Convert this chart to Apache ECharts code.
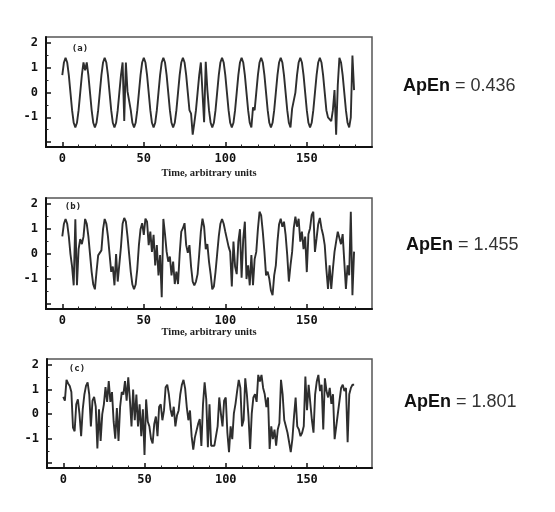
<!DOCTYPE html>
<html>
<head>
<meta charset="utf-8">
<script src="https://cdn.jsdelivr.net/npm/echarts@6/dist/echarts.min.js"></script>
<style>
html,body{margin:0;padding:0;background:#fff;}
#chart{width:555px;height:512px;}
</style>
</head>
<body>
<div id="chart"></div>
<script>
// time index (arbitrary units)
const times = Array.from({length: 180}, (_, i) => i);

// Panel (a): MIX(0.1)
const seriesA = [
 0.71,1.22,1.41,1.22,0.71,0,-0.71,-1.22,-1.41,-1.22,-0.71,0,
 0.71,1.22,0.9,1.22,0.71,0,-0.71,-1.22,-1.41,-1.22,-0.71,0,
 0.71,1.22,1.41,1.22,0.71,0,-0.71,-1.22,-1.41,-1.22,-0.71,0,
 0.71,1.22,-1.15,1.22,0.05,0,-0.71,-1.22,-1.41,-1.22,-0.71,0,
 0.71,1.22,1.41,1.22,0.71,0,-0.71,-1.22,-1.41,-1.22,-0.71,0,
 0.71,1.22,1.41,1.22,0.71,0,-0.71,-1.22,-1.41,-1.22,-0.71,0,
 0.71,1.22,1.41,1.22,0.71,0,-0.71,-0.85,-1.7,-1.22,-0.71,0,
 0.71,1.22,1.3,-1.2,1.25,0.1,-0.71,-1.22,-1.41,-1.22,-0.71,0,
 0.71,1.22,1.41,1.22,0.71,0,-0.71,-1.22,-1.41,-1.22,-0.71,0,
 0.71,1.22,1.41,1.22,0.71,0,-0.71,-1.22,-1.41,-0.6,-0.71,0,
 0.71,1.22,1.41,1.22,0.71,0,-0.71,-1.22,-1.41,-1.22,-0.71,0,
 0.71,1.22,1.41,1.22,0.71,0,-0.71,-1.22,-1.41,-0.65,-0.71,0,
 0.71,1.22,1.41,1.22,0.71,0,-0.71,-1.22,-1.41,-1.22,-0.71,0,
 0.71,1.22,1.41,1.22,0.71,0,-0.71,-1.0,-1.05,-1.15,-0.71,0.1,
 -1.7,0.3,1.41,1.22,0.71,0,-0.71,-1.22,-1.41,-1.0,1.5,0.1
];

// Panel (b): MIX(0.4)
const seriesB = [
 0.71,1.22,1.41,1.22,0.71,0.0,-0.5,-1.25,1.4,-1.25,
 0.2,0.6,0.4,0.7,1.41,1.22,0.71,0.0,-0.71,-1.22,
 -1.41,-0.7,-0.05,0.05,0.15,1.0,1.41,1.22,0.71,0.0,
 -0.71,-0.5,-1.25,0.0,-1.1,-0.4,0.3,1.22,1.45,1.3,
 0.71,0.0,-0.71,-1.22,-1.41,-1.22,-0.6,0.36,1.0,1.24,
 0.77,1.42,1.3,0.36,0.9,0.09,0.77,-0.45,0.36,-0.85,
 -0.04,-1.73,1.41,0.8,0.1,-0.3,-0.1,-0.85,-0.3,-1.2,
 -0.7,-1.2,0.0,0.9,1.04,1.24,0.36,0.05,0.36,-0.5,
 -1.1,-1.25,-1.1,-0.8,0.0,0.9,1.42,1.1,0.2,0.4,
 -0.3,-0.8,-1.41,-1.3,-0.71,0.0,0.71,1.22,1.41,1.22,
 0.9,0.6,0.3,0.09,-1.3,0.5,-0.5,-0.8,0.5,1.0,
 -0.95,0.6,1.3,-1.0,-0.45,-1.25,-0.04,-1.25,-0.2,0.09,
 1.0,1.7,1.55,0.9,0.1,-0.85,-0.7,-0.99,-1.46,-1.65,
 -0.85,-0.45,0.5,1.2,1.42,1.1,1.3,0.77,-0.04,-1.1,
 -0.45,0.09,1.04,1.5,1.1,1.42,0.5,0.9,0.2,0.7,
 -0.72,0.8,1.04,1.57,1.7,0.09,0.63,1.2,1.45,1.04,
 0.77,0.36,-0.6,-1.4,-0.45,-1.4,-0.6,0.09,0.5,0.9,
 0.9,0.4,0.8,-0.3,-1.4,-0.45,-0.85,1.7,-1.65,0.1
];

// Panel (c): MIX(0.8)
const seriesC = [
 0.7,0.55,1.4,1.25,1.15,0.9,-0.55,-0.7,0.4,0.6,
 0.0,-0.9,0.2,0.8,1.15,1.3,0.8,-0.5,0.55,0.7,
 0.3,-1.4,0.2,-1.1,0.0,0.4,1.1,0.5,1.35,0.5,
 0.9,-0.3,-1.0,0.25,-1.1,0.3,0.9,0.8,1.35,0.55,
 1.5,0.6,-0.5,1.0,-0.25,0.8,-0.5,0.4,-0.9,0.2,
 -1.67,0.6,-0.3,-0.5,-1.0,-1.2,-0.4,-0.1,-0.9,0.3,
 0.4,-0.25,0.15,1.1,1.2,0.8,0.2,-0.1,0.3,-0.5,
 -0.05,0.15,0.8,1.2,1.4,1.05,0.3,-0.25,0.15,-0.9,
 -1.45,-0.95,-0.9,-0.4,-0.2,-1.3,0.4,1.3,0.6,-1.35,
 0.4,-1.29,-1.37,-1.29,-1.37,-0.5,0.68,0.03,-0.5,0.55,
 0.68,-0.76,-1.55,-0.5,-1.02,0.03,0.42,0.94,1.4,1.07,
 -0.5,-0.24,1.46,0.81,-0.1,-1.42,0.03,0.68,0.81,0.5,
 1.6,1.33,1.6,1.07,0.81,0.29,0.68,-1.42,-0.5,-1.02,
 -0.63,-1.29,-0.63,-0.37,1.4,0.81,-0.24,-0.5,-0.76,-1.15,
 -1.55,-1.02,-0.1,0.68,-0.5,-0.63,-0.9,-0.76,-0.5,1.53,
 0.16,1.2,1.14,-0.24,-0.76,0.81,1.33,1.6,0.94,1.2,
 -0.63,1.46,0.94,0.68,1.07,0.42,0.81,-1.02,-0.5,0.03,
 0.55,1.07,1.2,0.94,1.07,-1.15,0.81,1.07,1.2,1.2
];

const xLabelTicks = [0, 50, 100, 150];
const xMinorTicks = [10,20,30,40,60,70,80,90,110,120,130,140,160,170,180];
const yLabelTicks = [-1, 0, 1, 2];
const yMajorTicks = [-2, -1, 0, 1, 2];
const yMinorTicks = [-1.5, -0.5, 0.5, 1.5];
const panelLabels = ['(a)', '(b)', '(c)'];
const apenValues = ['0.436', '1.455', '1.801'];
const xAxisTitle = 'Time, arbitrary units';

const grids = [
  {left: 46, top: 37, width: 326, height: 110},
  {left: 46, top: 198, width: 326, height: 111},
  {left: 47, top: 359, width: 325, height: 109}
];

const tickFont = 'DejaVu Sans Mono';
const allSeries = [seriesA, seriesB, seriesC];

const option = {
  animation: false,
  backgroundColor: '#fff',
  grid: grids.map(g => Object.assign({show: true, borderColor: '#555', borderWidth: 1.5, backgroundColor: 'transparent'}, g)),
  xAxis: [],
  yAxis: [],
  series: [],
  graphic: []
};

for (let i = 0; i < 3; i++) {
  option.xAxis.push({
    gridIndex: i, type: 'value', min: -10, max: 190,
    axisLine: {show: true, onZero: false, lineStyle: {color: '#111', width: 2}},
    axisTick: {show: true, inside: true, length: 5, customValues: xLabelTicks, lineStyle: {color: '#111', width: 1.5}},
    axisLabel: {customValues: xLabelTicks, fontFamily: tickFont, fontWeight: 'bold', fontSize: 12, color: '#111', margin: 6},
    splitLine: {show: false}
  });
  option.xAxis.push({
    gridIndex: i, type: 'value', min: -10, max: 190, position: 'bottom',
    axisLine: {show: false, onZero: false},
    axisTick: {show: true, inside: true, length: 2.5, customValues: xMinorTicks, lineStyle: {color: '#222', width: 1}},
    axisLabel: {show: false},
    splitLine: {show: false}
  });
  option.yAxis.push({
    gridIndex: i, type: 'value', min: -2.2, max: 2.25,
    axisLine: {show: true, onZero: false, lineStyle: {color: '#111', width: 2}},
    axisTick: {show: true, inside: true, length: 5, customValues: yMajorTicks, lineStyle: {color: '#111', width: 1.5}},
    axisLabel: {customValues: yLabelTicks, fontFamily: tickFont, fontWeight: 'bold', fontSize: 12, color: '#111', margin: 8},
    splitLine: {show: false}
  });
  option.yAxis.push({
    gridIndex: i, type: 'value', min: -2.2, max: 2.25, position: 'left',
    axisLine: {show: false, onZero: false},
    axisTick: {show: true, inside: true, length: 2.5, customValues: yMinorTicks, lineStyle: {color: '#222', width: 1}},
    axisLabel: {show: false},
    splitLine: {show: false}
  });
  option.series.push({
    type: 'line',
    xAxisIndex: 2 * i, yAxisIndex: 2 * i,
    data: allSeries[i].map((v, k) => [times[k], v]),
    showSymbol: false, symbol: 'none',
    lineStyle: {color: '#2e2e2e', width: 1.9},
    z: 3
  });
}

const panelLabelPos = [[80, 48.5], [73, 206.5], [77, 368.5]];
panelLabels.forEach((t, i) => {
  option.graphic.push({
    type: 'text',
    style: {text: t, x: panelLabelPos[i][0], y: panelLabelPos[i][1], align: 'center', verticalAlign: 'middle',
            font: 'bold 9px "DejaVu Sans Mono"', fill: '#222'}
  });
});

[173, 332].forEach(y => {
  option.graphic.push({
    type: 'text',
    style: {text: xAxisTitle, x: 209, y: y, align: 'center', verticalAlign: 'middle',
            font: 'bold 10.5px "Liberation Serif"', fill: '#222'}
  });
});

const apenPos = [[403, 86], [406, 245], [404, 402]];
apenValues.forEach((v, i) => {
  option.graphic.push({
    type: 'text',
    style: {
      text: '{b|ApEn}{n| = ' + v + '}',
      x: apenPos[i][0], y: apenPos[i][1], align: 'left', verticalAlign: 'middle',
      rich: {
        b: {fontFamily: 'Liberation Sans', fontWeight: 'bold', fontSize: 18, fill: '#111'},
        n: {fontFamily: 'Liberation Sans', fontWeight: 'normal', fontSize: 18, fill: '#333'}
      }
    }
  });
});

const chart = echarts.init(document.getElementById('chart'), null, {renderer: 'canvas'});
chart.setOption(option);
</script>
</body>
</html>
